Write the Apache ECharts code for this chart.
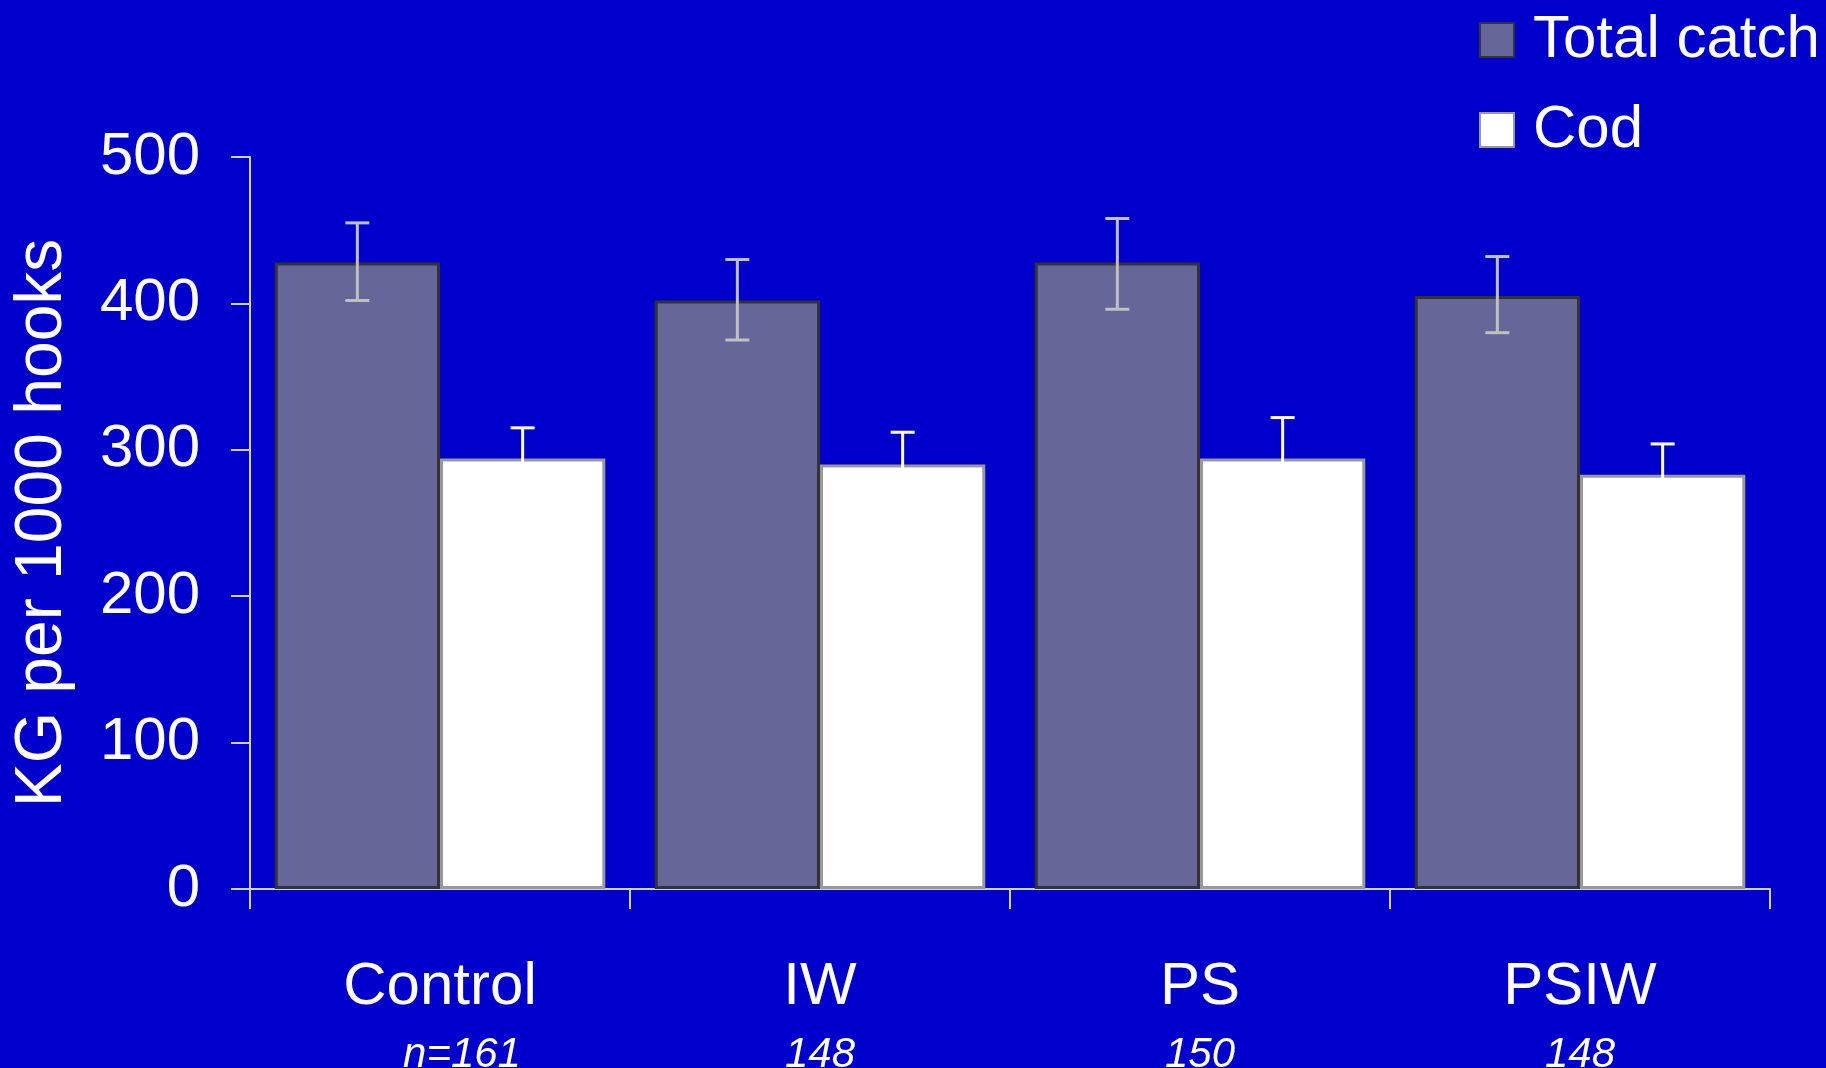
<!DOCTYPE html>
<html>
<head>
<meta charset="utf-8">
<script src="https://cdn.jsdelivr.net/npm/echarts@6/dist/echarts.min.js"></script>
<style>
html,body{margin:0;padding:0;background:#0000cc;}
#chart{width:1826px;height:1068px;}
</style>
</head>
<body>
<div id="chart"></div>
<script>
var categories = ['Control', 'IW', 'PS', 'PSIW'];
var sampleSizes = ['n=161', '148', '150', '148'];
var totalCatch = [428, 402, 428, 405];
var totalErrHigh = [455, 430, 458, 432];
var totalErrLow = [402, 375, 396, 380];
var cod = [294, 290, 294, 283];
var codErrHigh = [315, 312, 322, 304];
var codErrLow = [274, 268, 267, 262];
var yTicks = [0, 100, 200, 300, 400, 500];

var FONT = '"Liberation Sans", Arial, sans-serif';
var CAT_GAP = 0.13;

function errData(lo, hi) {
  return categories.map(function (c, i) { return [i, lo[i], hi[i]]; });
}

function makeErrRender(side, color) {
  return function (params, api) {
    var idx = api.value(0);
    var lowP = api.coord([idx, api.value(1)]);
    var highP = api.coord([idx, api.value(2)]);
    var band = api.size([1, 0])[0];
    var barW = band * (1 - CAT_GAP) / 2;
    var x = lowP[0] + side * barW / 2;
    var cap = 12;
    var style = { stroke: color, lineWidth: 3, fill: null };
    return {
      type: 'group',
      children: [
        { type: 'line', shape: { x1: x, y1: highP[1], x2: x, y2: lowP[1] }, style: style },
        { type: 'line', shape: { x1: x - cap, y1: highP[1], x2: x + cap, y2: highP[1] }, style: style },
        { type: 'line', shape: { x1: x - cap, y1: lowP[1], x2: x + cap, y2: lowP[1] }, style: style }
      ]
    };
  };
}

var chart = echarts.init(document.getElementById('chart'), null, { renderer: 'canvas' });
var axisColor = '#d0d0f4';

chart.setOption({
  backgroundColor: '#0000cc',
  animation: false,
  textStyle: { fontFamily: FONT },
  grid: { left: 250, right: 56, top: 157, bottom: 179, containLabel: false, outerBoundsMode: 'none' },
  legend: {
    orient: 'vertical',
    left: 1474,
    top: 4,
    itemWidth: 34,
    itemHeight: 34,
    itemGap: 28,
    icon: 'rect',
    textStyle: { color: '#ffffff', fontSize: 60, fontFamily: FONT, lineHeight: 62, padding: [0, 0, 0, 14] },
    data: ['Total catch', 'Cod']
  },
  xAxis: {
    type: 'category',
    data: categories,
    axisLine: { lineStyle: { color: axisColor, width: 2 } },
    axisTick: { show: true, length: 20, lineStyle: { color: axisColor, width: 2 } },
    axisLabel: {
      margin: 63,
      interval: 0,
      formatter: function (v, i) {
        var style = i === 0 ? 'c' : 'b';
        return '{a|' + v + '}\n{' + style + '|' + sampleSizes[i] + '}';
      },
      rich: {
        a: { color: '#ffffff', fontSize: 60, fontFamily: FONT, lineHeight: 70 },
        b: { color: '#ffffff', fontSize: 42, fontStyle: 'italic', fontFamily: FONT, lineHeight: 66 },
        c: { color: '#ffffff', fontSize: 42, fontStyle: 'italic', fontFamily: FONT, lineHeight: 66, padding: [0, 0, 0, 44] }
      }
    }
  },
  yAxis: {
    type: 'value',
    min: 0,
    max: 500,
    interval: 100,
    name: 'KG per 1000 hooks',
    nameLocation: 'middle',
    nameRotate: 90,
    nameGap: 174,
    nameTextStyle: { color: '#ffffff', fontSize: 66, fontFamily: FONT },
    axisLine: { show: true, lineStyle: { color: axisColor, width: 2 } },
    axisTick: { show: true, length: 19, lineStyle: { color: axisColor, width: 2 } },
    splitLine: { show: false },
    axisLabel: {
      margin: 50,
      color: '#ffffff',
      fontSize: 60,
      fontFamily: FONT,
      formatter: function (v) { return yTicks.indexOf(v) >= 0 ? String(v) : ''; }
    }
  },
  series: [
    {
      name: 'Total catch',
      type: 'bar',
      data: totalCatch,
      barGap: '0%',
      barCategoryGap: (CAT_GAP * 100) + '%',
      itemStyle: { color: '#666699', borderColor: '#333333', borderWidth: 3 }
    },
    {
      name: 'Cod',
      type: 'bar',
      data: cod,
      barGap: '0%',
      barCategoryGap: (CAT_GAP * 100) + '%',
      itemStyle: { color: '#ffffff', borderColor: '#999999', borderWidth: 3 }
    },
    {
      type: 'custom',
      name: 'totalErr',
      renderItem: makeErrRender(-1, '#c0c0c0'),
      encode: { x: 0, y: [1, 2] },
      data: errData(totalErrLow, totalErrHigh),
      z: 10
    },
    {
      type: 'custom',
      name: 'codErr',
      renderItem: makeErrRender(1, '#ffffff'),
      encode: { x: 0, y: [1, 2] },
      data: errData(codErrLow, codErrHigh),
      z: 10
    }
  ]
});
</script>
</body>
</html>
